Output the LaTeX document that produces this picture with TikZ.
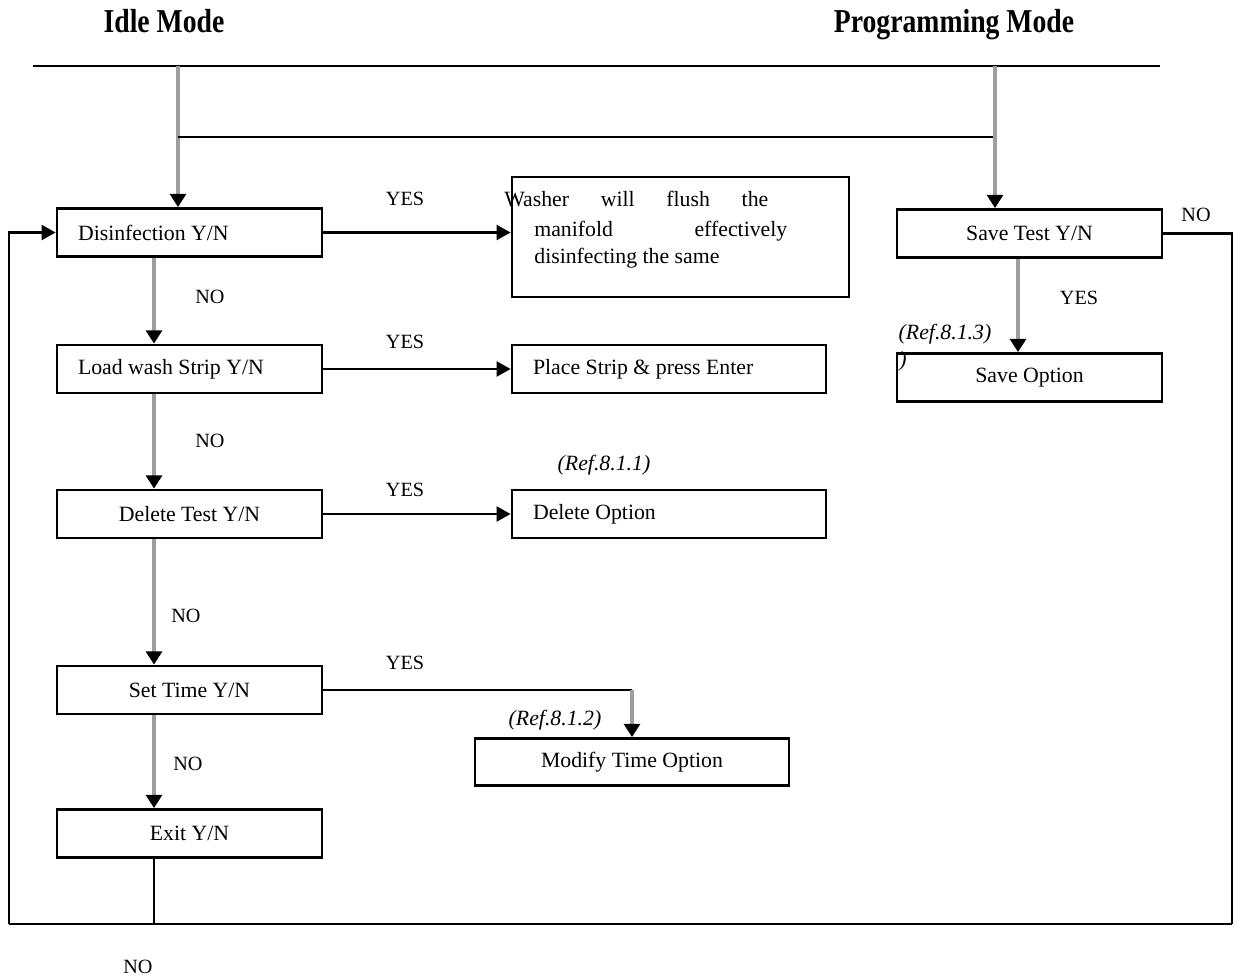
\documentclass[tikz,border=0pt]{standalone}
\usepackage{fontspec}
\setmainfont{Liberation Serif}
\newfontfamily\headfont{Liberation Serif}[FakeStretch=0.83]
\usepackage{tikz}
\usetikzlibrary{arrows.meta}

\tikzset{
	box/.style={draw, line width=1.6pt, minimum height=0.96cm, inner ysep=0pt, font=\fontsize{12.4}{14}\selectfont},
	lbox/.style={box, align=flush left, inner xsep=0.42cm},
	headline/.style={font=\headfont\bfseries\fontsize{19}{22}\selectfont, anchor=base},
	yesno/.style={font=\fontsize{11.5}{13}\selectfont},
	refnote/.style={font=\fontsize{12.4}{14}\selectfont\itshape},
	garrow/.style={draw=black!38, line width=2pt, -{Triangle[color=black, length=7.5pt, width=9pt]}},
	barrow/.style={line width=1.4pt, -{Triangle[length=8pt, width=8.5pt]}},
	link/.style={line width=1.4pt}
}

\begin{document}
\begin{tikzpicture}[x=0.02cm, y=-0.02cm]
	
	\useasboundingbox (0,0) rectangle (1237,978);
	
	\coordinate (topL) at (33,66);
	\coordinate (topR) at (1160,66);
	\coordinate (splitL) at (178,137);
	\coordinate (splitR) at (995,137);
	\coordinate (botL) at (9,924);
	\coordinate (botR) at (1232,924);
	\coordinate (colL) at (154,0);
	\coordinate (colR) at (1018,0);
	
	\node[headline] (idle) at (164,32) {Idle Mode};
	\node[headline] (prog) at (954,32) {Programming Mode};
	
	% left column
	\node[lbox, text width=4.46cm] (dis) at (189.5,232.5) {Disinfection Y/N};
	\node[lbox, text width=4.46cm] (load) at (189.5,369) {Load wash Strip Y/N};
	\node[box, minimum width=5.3cm] (del) at (189.5,514) {Delete Test Y/N};
	\node[box, minimum width=5.3cm] (time) at (189.5,690) {Set Time Y/N};
	\node[box, minimum width=5.3cm] (exit) at (189.5,833.5) {Exit Y/N};
	
	% middle column
	\node[box, minimum width=6.74cm, minimum height=2.4cm] (wash) at (680.5,237) {};
	\node[anchor=west, inner sep=0pt, text width=5.28cm, font=\fontsize{12.4}{14}\selectfont] (wash1) at (504,199) {Washer\hfill will\hfill flush\hfill the};
	\node[anchor=west, inner sep=0pt, text width=5.06cm, font=\fontsize{12.4}{14}\selectfont] (wash2) at (534,231) {manifold\hfill effectively};
	\node[anchor=west, inner sep=0pt, font=\fontsize{12.4}{14}\selectfont] (wash3) at (534,258) {disinfecting the same};
	\node[lbox, text width=5.44cm] (place) at (669,369) {Place Strip \& press Enter};
	\node[lbox, text width=5.44cm] (delopt) at (669,514) {Delete Option};
	\node[box, minimum width=6.28cm, minimum height=0.94cm] (modify) at (632,762) {Modify Time Option};
	
	% right column
	\node[box, minimum width=5.3cm] (save) at (1029.5,233.5) {Save Test Y/N};
	\node[box, minimum width=5.3cm] (saveopt) at (1029.5,377.5) {Save Option};
	
	\draw[link] (topL) -- (topR);
	\draw[garrow] (topL -| splitL) -- (dis.north -| splitL);
	\draw[link] (splitL) -- (splitR);
	\draw[garrow] (topL -| splitR) -- (save.north -| splitR);
	
	\draw[barrow] (dis.east) -- (dis.east -| wash.west);
	\draw[barrow] (load.east) -- (place.west);
	\draw[barrow] (del.east) -- (delopt.west);
	\draw[link] (time.east) -- (time.east -| modify.north);
	\draw[garrow] (time.east -| modify.north) -- (modify.north);
	
	\draw[garrow] (dis.south -| colL) -- (load.north -| colL);
	\draw[garrow] (load.south -| colL) -- (del.north -| colL);
	\draw[garrow] (del.south -| colL) -- (time.north -| colL);
	\draw[garrow] (time.south -| colL) -- (exit.north -| colL);
	\draw[link] (exit.south -| colL) -- (botL -| colL);
	
	\draw[garrow] (save.south -| colR) -- (saveopt.north -| colR);
	
	\draw[link] (botL) -- (botR);
	\draw[barrow] (botL) |- (dis.west);
	\draw[link] (save.east) -| (botR);
	
	\node[yesno] (yes1) at (405,199) {YES};
	\node[yesno] (yes2) at (405,342) {YES};
	\node[yesno] (yes3) at (405,490) {YES};
	\node[yesno] (yes4) at (405,663) {YES};
	\node[yesno] (yes5) at (1079,298) {YES};
	\node[yesno] (no1) at (210,297) {NO};
	\node[yesno] (no2) at (210,441) {NO};
	\node[yesno] (no3) at (186,616) {NO};
	\node[yesno] (no4) at (188,764) {NO};
	\node[yesno] (no5) at (1196,215) {NO};
	\node[yesno] (no6) at (138,967) {NO};
	
	\node[refnote] (ref1) at (604,465) {(Ref.8.1.1)};
	\node[refnote] (ref2) at (555,720) {(Ref.8.1.2)};
	\node[refnote] (ref3) at (945,334) {(Ref.8.1.3)};
	\node[refnote] (ref3b) at (903,361) {)};
	
\end{tikzpicture}
\end{document}
